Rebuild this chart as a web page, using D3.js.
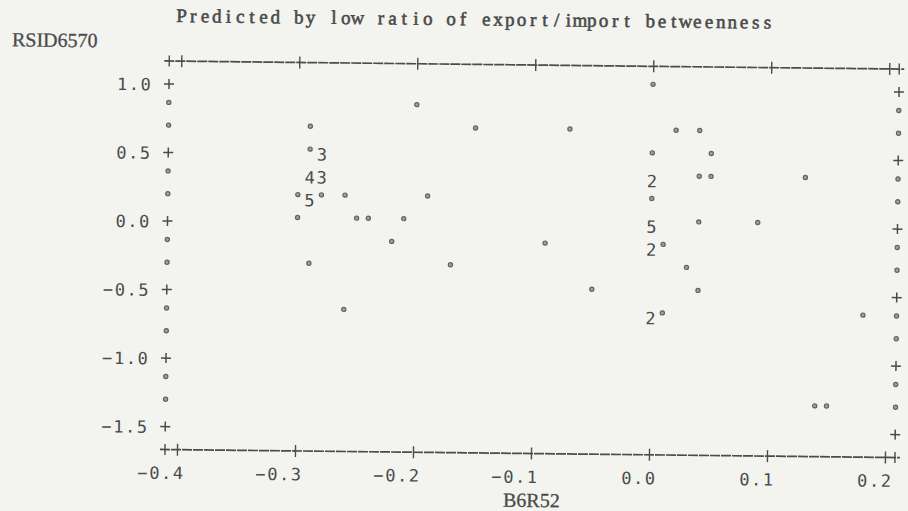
<!DOCTYPE html>
<html><head><meta charset="utf-8">
<script src="https://cdn.jsdelivr.net/npm/d3@7"></script>
<style>
html,body{margin:0;padding:0;background:#f3f4ef;}
svg{display:block}
</style></head><body>
<svg id="c" width="908" height="511"></svg>
<script>
// ---- data (counts >1 are printed as digits) ----
const xVals  = [0.00, -0.20,
  -0.29, -0.15, -0.07, 0.02, 0.04,
  -0.29, -0.28, 0.00, 0.05,
  -0.29, -0.28, 0.00, 0.04, 0.05, 0.13,
  -0.30, -0.29, -0.28, -0.26, -0.19, 0.00,
  -0.30, -0.25, -0.24, -0.21, 0.00, 0.04, 0.09,
  -0.22, -0.09, 0.00, 0.01,
  -0.29, -0.17, 0.03,
  -0.05, 0.04,
  -0.26, 0.00, 0.01, 0.18,
  0.14, 0.15];
const yVals  = [1.000, 0.833,
  0.667, 0.667, 0.667, 0.667, 0.667,
  0.500, 0.500, 0.500, 0.500,
  0.333, 0.333, 0.333, 0.333, 0.333, 0.333,
  0.167, 0.167, 0.167, 0.167, 0.167, 0.167,
  0.000, 0.000, 0.000, 0.000, 0.000, 0.000, 0.000,
  -0.167, -0.167, -0.167, -0.167,
  -0.333, -0.333, -0.333,
  -0.500, -0.500,
  -0.667, -0.667, -0.667, -0.667,
  -1.333, -1.333];
const counts = [1, 1,
  1, 1, 1, 1, 1,
  1, 3, 1, 1,
  4, 3, 2, 1, 1, 1,
  1, 5, 1, 1, 1, 1,
  1, 1, 1, 1, 5, 1, 1,
  1, 1, 2, 1,
  1, 1, 1,
  1, 1,
  1, 2, 1, 1,
  1, 1];
const xTickVals = [-0.4, -0.3, -0.2, -0.1, 0.0, 0.1, 0.2];
const yTickVals = [1.0, 0.5, 0.0, -0.5, -1.0, -1.5];
const yRowVals  = [0.833, 0.667, 0.333, 0.167, -0.167, -0.333, -0.667, -0.833, -1.167, -1.333];
const titleText = "Predicted by low ratio of export/import betweenness";
const yTitle = "RSID6570";
const xTitle = "B6R52";

// ---- layout ----
const ink = "#4b4b4b";
const L = 165, R = 895, T = 61, B = 449.5;
const x = d3.scaleLinear().domain([-0.4, 0.2]).range([177, 885]);
const y = d3.scaleLinear().domain([1, -1.5]).range([84, 426.6]);
const monoSans = "'DejaVu Sans Mono', monospace";
const serif = "'Liberation Serif', 'Times New Roman', serif";
const fmt = d3.format(".1f");

const svg = d3.select("#c");
svg.append("rect").attr("width", 908).attr("height", 511).attr("fill", "#f3f4ef");
const g = svg.append("g").attr("transform", `rotate(0.63, ${L}, ${B})`);

// title: serif glyphs centred on a fixed printer pitch (one text element)
const pitch = 11.72, titleX0 = 171, titleSize = 19;
const probe = svg.append("text").attr("font-family", serif).attr("font-size", titleSize);
const xs = titleText.split("").map((ch, i) => {
  probe.text(ch === " " ? "n" : ch);
  const w = probe.node().getComputedTextLength();
  return (titleX0 + i * pitch + (pitch - w) / 2).toFixed(2);
});
probe.remove();
g.append("text").attr("x", xs.join(" ")).attr("y", 22)
  .attr("font-family", serif).attr("font-size", titleSize)
  .attr("fill", ink).attr("stroke", ink).attr("stroke-width", 0.6)
  .text(titleText);

g.append("text").attr("x", 7.5).attr("y", 48)
  .attr("font-family", serif).attr("font-size", 20)
  .attr("fill", ink).attr("stroke", ink).attr("stroke-width", 0.3).text(yTitle);
g.append("text").attr("x", 503.6).attr("y", 503)
  .attr("font-family", serif).attr("font-size", 20)
  .attr("fill", ink).attr("stroke", ink).attr("stroke-width", 0.3).text(xTitle);

// horizontal borders
function hBorder(yy) {
  g.append("line").attr("x1", L - 5).attr("x2", R + 5).attr("y1", yy).attr("y2", yy)
    .attr("stroke", ink).attr("stroke-width", 1.7).attr("stroke-dasharray", "10,1");
  [L, R].forEach(cx => g.append("line").attr("x1", cx).attr("x2", cx)
    .attr("y1", yy - 5.5).attr("y2", yy + 5.5).attr("stroke", ink).attr("stroke-width", 1.4));
}
hBorder(T); hBorder(B);

function styleHAxis(sel) {
  sel.select(".domain").remove();
  sel.selectAll(".tick line").attr("y1", -6).attr("y2", 6)
    .attr("stroke", ink).attr("stroke-width", 1.4);
}
const topAxis = g.append("g").attr("transform", `translate(0,${T})`)
  .call(d3.axisTop(x).tickValues(xTickVals).tickFormat(""));
styleHAxis(topAxis);
const botAxis = g.append("g").attr("transform", `translate(0,${B})`)
  .call(d3.axisBottom(x).tickValues(xTickVals).tickFormat(fmt));
styleHAxis(botAxis);
botAxis.selectAll(".tick text")
  .attr("y", 23.5).attr("dy", "0.35em").attr("x", 7.5)
  .attr("text-anchor", "end").attr("font-family", monoSans).attr("font-size", 17)
  .attr("letter-spacing", "1.6px").attr("fill", ink);

// vertical borders (printed columns of + and °)
const leftAxis = g.append("g").attr("transform", `translate(${L},0)`)
  .call(d3.axisLeft(y).tickValues(yTickVals).tickFormat(fmt).tickSize(0).tickPadding(16.5));
leftAxis.select(".domain").remove();
leftAxis.selectAll(".tick text").attr("dy", "0.35em")
  .attr("font-family", monoSans).attr("font-size", 17)
  .attr("letter-spacing", "1.6px").attr("fill", ink);

function plus(cx, cy) {
  g.append("line").attr("x1", cx - 5).attr("x2", cx + 5).attr("y1", cy).attr("y2", cy)
    .attr("stroke", ink).attr("stroke-width", 1.5);
  g.append("line").attr("x1", cx).attr("x2", cx).attr("y1", cy - 5).attr("y2", cy + 5)
    .attr("stroke", ink).attr("stroke-width", 1.5);
}
function deg(cx, cy) {
  g.append("circle").attr("cx", cx).attr("cy", cy).attr("r", 2.1)
    .attr("fill", "#a0a0a0").attr("stroke", "#626262").attr("stroke-width", 1.2);
}
[L, R].forEach(cx => {
  yTickVals.forEach(v => plus(cx, y(v)));
  yRowVals.forEach(v => deg(cx, y(v) - 4.5));
});

// data marks
const pts = xVals.map((v, i) => ({x: v, y: yVals[i], n: counts[i]}));
pts.filter(d => d.n === 1).forEach(d => deg(x(d.x), y(d.y) - 5));
g.selectAll("text.cnt").data(pts.filter(d => d.n > 1)).join("text")
  .attr("class", "cnt")
  .attr("x", d => x(d.x)).attr("y", d => y(d.y)).attr("dy", "0.38em")
  .attr("text-anchor", "middle").attr("font-family", monoSans).attr("font-size", 17)
  .attr("fill", ink).text(d => d.n);
</script>
</body></html>
